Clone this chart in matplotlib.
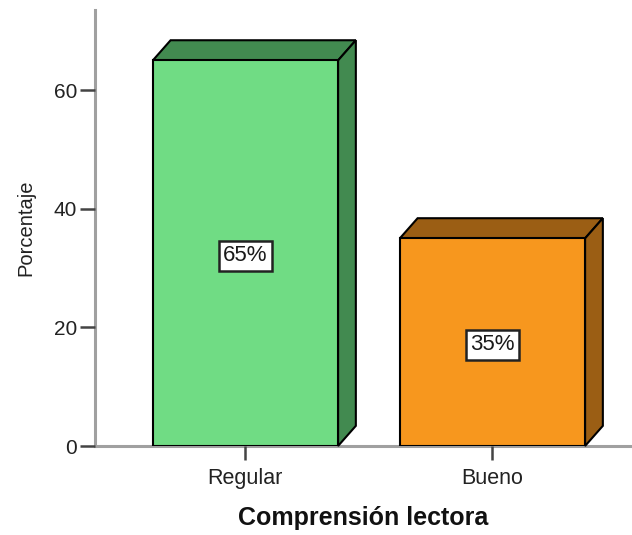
import matplotlib.pyplot as plt
from matplotlib.patches import Polygon

plt.rcParams['font.family'] = ['Liberation Sans', 'DejaVu Sans']

# Comprension lectora frequencies (percent)
categories = ['Regular', 'Bueno']
percentages = [65, 35]
value_labels = ['65%', '35%']

front_colors = ['#70DC84', '#F7971E']
dark_colors = ['#428A50', '#9B5E14']

fig = plt.figure(figsize=(6.32, 5.35), dpi=100)
ax = fig.add_axes([95 / 632, 1 - 446 / 535, 537 / 632, 436 / 535])

positions = list(range(len(categories)))
width = 0.75
dx, dy = 0.072, 3.4   # depth of the 3d effect

bars = ax.bar(positions, percentages, width=width, color=front_colors,
              edgecolor='black', linewidth=1.5, zorder=3)

for bar, dark in zip(bars, dark_colors):
    x0 = bar.get_x()
    x1 = x0 + bar.get_width()
    h = bar.get_height()
    top = Polygon([(x0, h), (x0 + dx, h + dy), (x1 + dx, h + dy), (x1, h)],
                  closed=True, facecolor=dark, edgecolor='black', linewidth=1.5,
                  zorder=2, clip_on=False)
    side = Polygon([(x1, 0), (x1 + dx, dy), (x1 + dx, h + dy), (x1, h)],
                   closed=True, facecolor=dark, edgecolor='black', linewidth=1.5,
                   zorder=2, clip_on=False)
    ax.add_patch(top)
    ax.add_patch(side)

for pos, val, lab in zip(positions, percentages, value_labels):
    ax.text(pos, val / 2, lab, ha='center', va='center_baseline', fontsize=16,
            color='#1A1A1A', zorder=5,
            bbox=dict(boxstyle='square,pad=0.2', facecolor='white',
                      edgecolor='#222222', linewidth=1.8))

ax.set_xlim(-0.609, 1.565)
ax.set_ylim(0, 73.5)
ax.set_yticks([0, 20, 40, 60])
ax.set_xticks(positions)
ax.set_xticklabels(categories)

for side_name in ['top', 'right']:
    ax.spines[side_name].set_visible(False)
for side_name in ['left', 'bottom']:
    ax.spines[side_name].set_color('#A0A0A0')
    ax.spines[side_name].set_linewidth(2.2)
    ax.spines[side_name].set_zorder(1)

ax.tick_params(axis='y', length=11, width=1.8, color='#444444', pad=2,
               labelsize=15, labelcolor='#222222')
ax.tick_params(axis='x', length=10, width=1.8, color='#444444', pad=6,
               labelsize=15.5, labelcolor='#222222')

ax.set_ylabel('Porcentaje', fontsize=14.5, color='#222222', labelpad=13)
ax.set_xlabel('Comprensión lectora', fontsize=18, fontweight='bold',
              color='#111111', labelpad=12)

fig.savefig('out.png', dpi=100)
